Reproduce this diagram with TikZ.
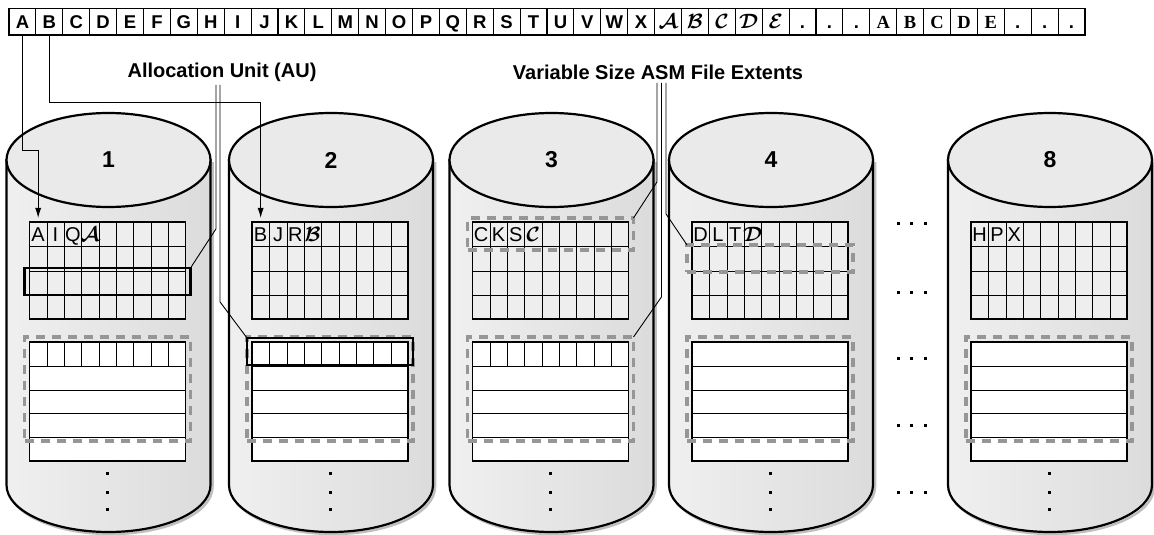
\documentclass[tikz,border=0pt]{standalone}
\usepackage{amsmath}
\usepackage{fontspec}
\setmainfont{Liberation Sans}
\newfontfamily\seriffam{Liberation Serif}
\usepackage{tikz}
\usetikzlibrary{arrows.meta}
\definecolor{dashgray}{RGB}{150,150,150}
\definecolor{topgray}{RGB}{234,234,234}
\definecolor{cellgray}{RGB}{238,238,238}
\newcommand{\scr}[1]{{\fontsize{20}{20}\selectfont$\boldsymbol{\mathcal{#1}}$}}

\begin{document}
\begin{tikzpicture}[>={Latex[length=10pt,width=6pt]}, x=1pt, y=-1pt,
    stripcell/.style={draw, line width=1.1pt, minimum width=26.9pt, minimum height=26.5pt,
      inner sep=0pt, outer sep=0pt, text height=13pt, text depth=0pt,
      font=\fontsize{18.5}{18.5}\selectfont\bfseries},
    gridletter/.style={minimum width=17.33pt, minimum height=24.25pt, inner sep=0pt,
      outer sep=0pt, text height=14pt, text depth=0pt, font=\fontsize{20}{20}\selectfont},
    disknum/.style={font=\fontsize{23}{23}\selectfont\bfseries},
    lbl/.style={font=\fontsize{20}{20}\selectfont\bfseries},
    gridline/.style={line width=1.2pt},
    conn/.style={line width=0.9pt},
    extbox/.style={draw=dashgray, line width=3.5pt, dash pattern=on 9pt off 7pt,
      minimum width=166pt, inner sep=0pt, outer sep=0pt},
    aubox/.style={draw, line width=2.2pt, minimum width=166pt, minimum height=27pt,
      inner sep=0pt, outer sep=0pt}]
  \useasboundingbox (0,0) rectangle (1154,535);

  % file strip
  \foreach \t [count=\i] in {A,B,C,D,E,F,G,H,I,J,K,L,M,N,O,P,Q,R,S,T,U,V,W,X,
      \scr{A},\scr{B},\scr{C},\scr{D},\scr{E},.,.,.,
      {\seriffam A},{\seriffam B},{\seriffam C},{\seriffam D},{\seriffam E},.,.,.}
    \node[stripcell] (s\i) at ({9+26.9*(\i-0.5)},21.75) {\t};

  \node[lbl] (au) at (222,72) {Allocation Unit (AU)};
  \node[lbl] (ext) at (658,72) {Variable Size ASM File Extents};

  % disks
  \foreach \cx/\n/\lets/\cols in {108.5/1/{A,I,Q,\scr{A}}/1, 331/2/{B,J,R,\scr{B}}/1,
      551.5/3/{C,K,S,\scr{C}}/1, 771/4/{D,L,T,\scr{D}}/0, 1050/8/{H,P,X}/0}{
    \draw[gray!50, line width=2.5pt, shift={(2,2)}] (\cx-102,160) -- (\cx-102,485)
      arc[start angle=180, end angle=360, x radius=102pt, y radius=47pt] -- (\cx+102,160);
    \draw[line width=2.2pt, left color=gray!12, middle color=white, right color=gray!28]
      (\cx-102,160) -- (\cx-102,485)
      arc[start angle=180, end angle=360, x radius=102pt, y radius=47pt] -- (\cx+102,160) -- cycle;
    \draw[line width=2.2pt, fill=topgray] (\cx,160) ellipse[x radius=102pt, y radius=47pt];
    \node[disknum] (d\n-num) at (\cx,160) {\n};
    % AU grid
    \draw[gridline, fill=cellgray] (\cx-79,222) rectangle (\cx+77,319);
    \foreach \k in {1,...,8}
      \draw[gridline] ({round(\cx-79+17.333*\k)+0.5},222) -- ++(0,97);
    \foreach \k in {1,2,3}
      \draw[gridline] (\cx-79,{round(222+24.25*\k)+0.5}) -- ++(156,0);
    \foreach \t [count=\k] in \lets
      \node[gridletter] (d\n-l\k) at ({\cx-79+17.333*(\k-0.5)},234.1) {\t};
    % extent rows
    \draw[gridline, fill=white] (\cx-79,342) rectangle (\cx+77,461);
    \foreach \k in {1,...,4}
      \draw[gridline] (\cx-79,{round(342+23.8*\k)+0.5}) -- ++(156,0);
    \ifnum\cols=1
      \foreach \k in {1,...,8}
        \draw[gridline] ({round(\cx-79+17.333*\k)+0.5},342) -- ++(0,24.3);
    \fi
    \node[extbox, minimum height=104pt] (d\n-ext) at (\cx-1,389) {};
    \foreach \y in {473,492,509} \fill (\cx-2.5,\y-1.5) rectangle ++(3,3);
  }

  % highlighted units and extents
  \node[aubox] (d1-au) at (107.5,281.5) {};
  \node[aubox] (d2-au) at (330,351.5) {};
  \node[extbox, minimum height=32pt] (d3-top) at (550.5,234) {};
  \node[extbox, minimum height=27pt] (d4-top) at (770,258.5) {};

  % disks 5 to 7 left out
  \foreach \y in {223,292,358,425,492}
    \foreach \dx in {-13.5,0,13.5}
      \fill (911.5+\dx-1.5,\y-1.5) rectangle ++(3,3);

  % connectors
  \draw[conn,->,shorten >=4pt] (s1.south) -- ++(0,115) -| (d1-l1.north);
  \draw[conn,->,shorten >=4pt] (s2.south) -- ++(0,67) -| (d2-l1.north);
  \draw[conn] ([xshift=-6pt]au.south) -- ++(0,144) -- (d1-au.north east);
  \draw[conn] ([xshift=-2pt]au.south) -- ++(0,217) -- (d2-au.north west);
  \draw[conn] ([xshift=-1pt]ext.south) -- ++(0,99) -- (d3-top.north east);
  \draw[conn] ([xshift=3.5pt]ext.south) -- ++(0,214) -- (d3-ext.north east);
  \draw[conn] ([xshift=8pt]ext.south) -- ++(0,131) -- (d4-top.north west);
\end{tikzpicture}
\end{document}
